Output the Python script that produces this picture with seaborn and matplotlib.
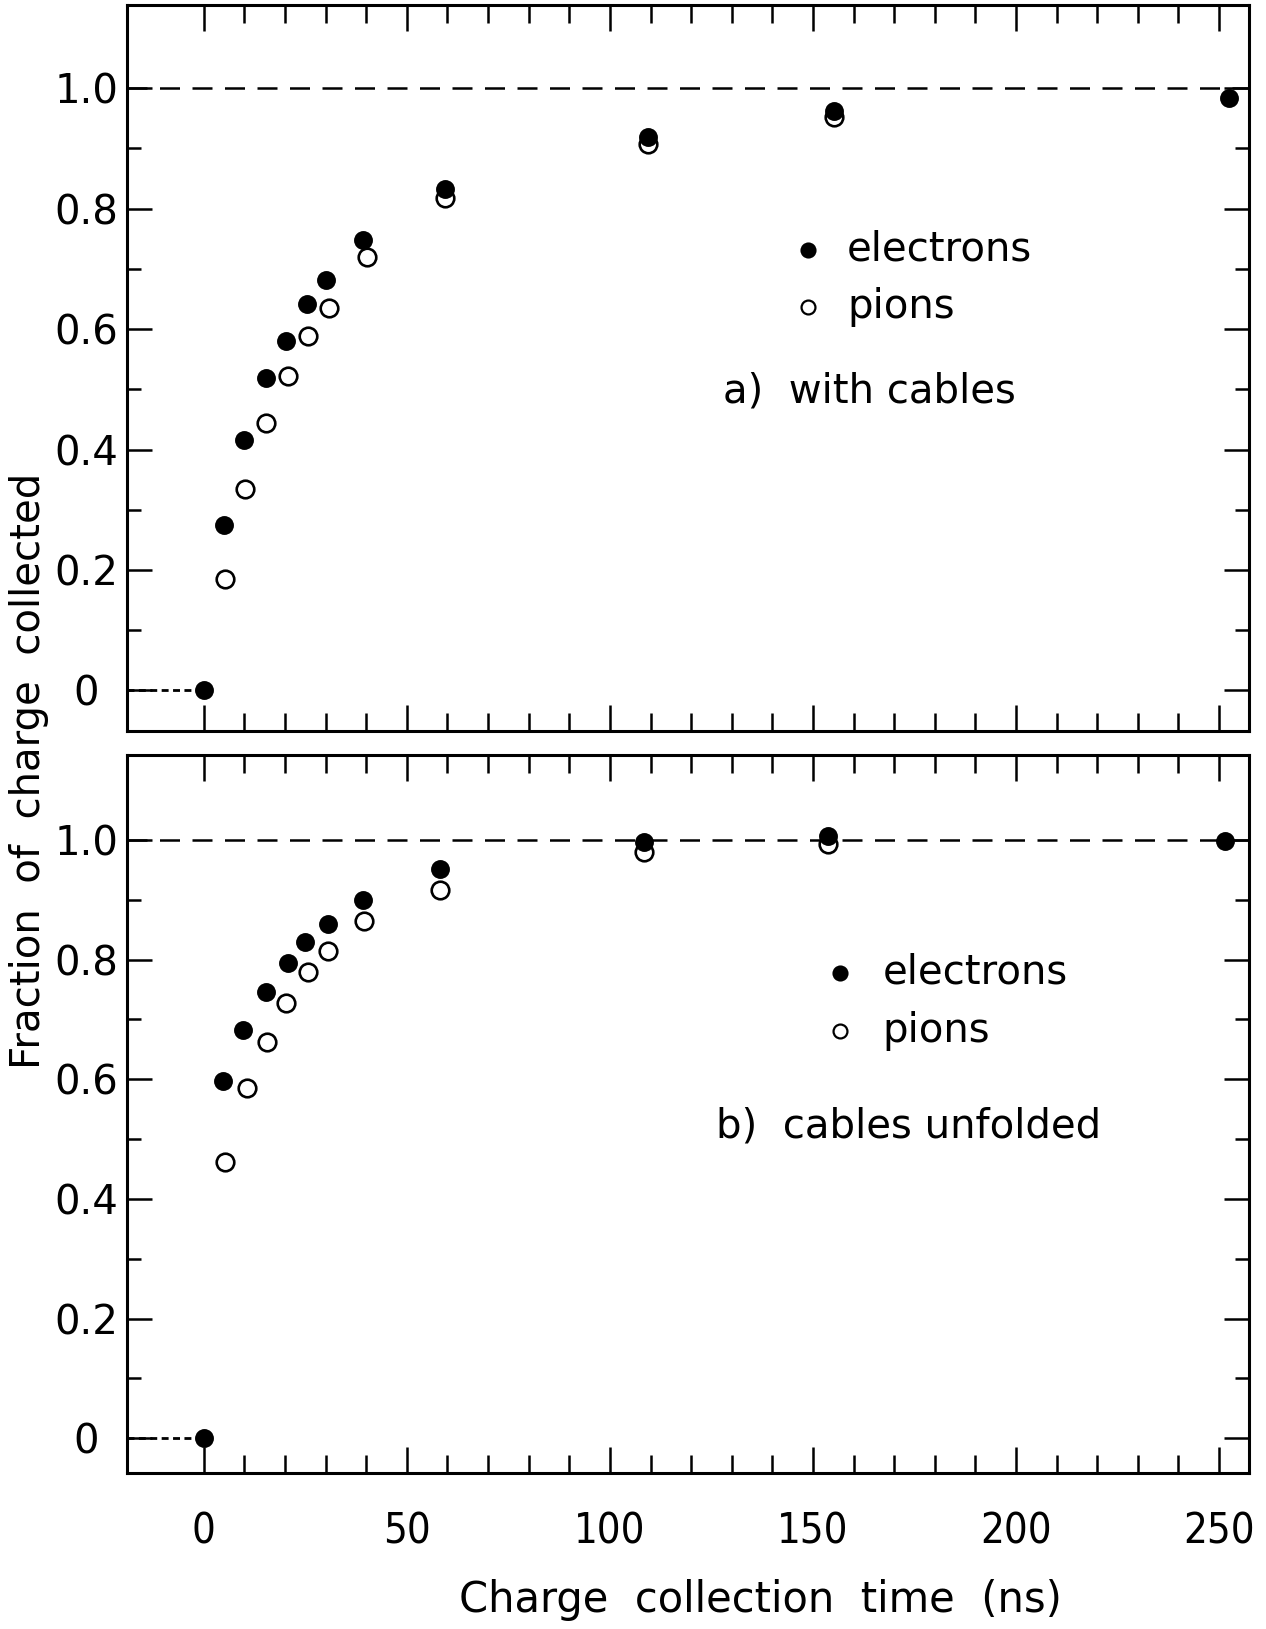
import os
import matplotlib
matplotlib.use("Agg")
import matplotlib.pyplot as plt
import seaborn as sns
import pandas as pd
from matplotlib import font_manager
from matplotlib.font_manager import FontProperties
from matplotlib.ticker import FixedLocator, FixedFormatter, NullFormatter

# ---- data: fraction of charge collected vs. charge collection time (ns) ----
# a) with cables
t_el_a = [0.0, 4.9, 9.8, 15.3, 20.2, 25.5, 30.1, 39.2, 59.4, 109.3, 155.1, 252.5]
f_el_a = [0.0, 0.275, 0.416, 0.519, 0.581, 0.642, 0.681, 0.748, 0.833, 0.919, 0.962, 0.984]
t_pi_a = [5.1, 10.2, 15.3, 20.8, 25.7, 30.8, 40.2, 59.4, 109.3, 155.1]
f_pi_a = [0.185, 0.335, 0.444, 0.522, 0.589, 0.635, 0.719, 0.817, 0.907, 0.952]

# b) cables unfolded
t_el_b = [0.0, 4.8, 9.6, 15.2, 20.8, 25.0, 30.6, 39.2, 58.1, 108.3, 153.6, 251.5]
f_el_b = [0.0, 0.597, 0.683, 0.746, 0.795, 0.830, 0.860, 0.900, 0.951, 0.996, 1.006, 0.998]
t_pi_b = [5.1, 10.6, 15.5, 20.3, 25.7, 30.5, 39.4, 58.1, 108.3, 153.6]
f_pi_b = [0.461, 0.585, 0.662, 0.728, 0.779, 0.815, 0.865, 0.916, 0.980, 0.994]

x_major = [0, 50, 100, 150, 200, 250]
x_minor = list(range(0, 251, 10))
y_major = [0.0, 0.2, 0.4, 0.6, 0.8, 1.0]
y_major_labels = ["0", "0.2", "0.4", "0.6", "0.8", "1.0"]
y_minor = [0.1, 0.3, 0.5, 0.7, 0.9]

panel_titles = ["a)  with cables", "b)  cables unfolded"]
legend_labels = ["electrons", "pions"]

# ---- style ----
sns.set_style("ticks")
plt.rcParams["font.family"] = ["DejaVu Sans"]
plt.rcParams["axes.edgecolor"] = "black"
plt.rcParams["xtick.color"] = "black"
plt.rcParams["ytick.color"] = "black"
plt.rcParams["text.color"] = "black"

# a narrow face for the time-axis numbers, if one is installed
narrow_files = ["LiberationSansNarrow-Regular.ttf", "DejaVuSansCondensed.ttf",
                "RobotoCondensed-Regular.ttf", "OpenSans_Condensed-Regular.ttf"]
available = {os.path.basename(f.fname): f.fname for f in font_manager.fontManager.ttflist}
narrow_fp = None
for name in narrow_files:
    if name in available:
        narrow_fp = FontProperties(fname=available[name], size=30)
        break
if narrow_fp is None:
    for base, path in available.items():
        low = base.lower()
        if ("condensed" in low or "narrow" in low) and "bold" not in low \
                and "italic" not in low and "oblique" not in low and "light" not in low:
            narrow_fp = FontProperties(fname=path, size=30)
            break
if narrow_fp is None:
    narrow_fp = FontProperties(family="DejaVu Sans", size=29)

XLIM = (-19, 257.5)

fig = plt.figure(figsize=(12.66, 16.29), dpi=100)
ax_a = fig.add_axes([0.1001, 0.5511, 0.8868, 0.4457])
ax_b = fig.add_axes([0.1001, 0.0958, 0.8868, 0.4407])


def draw_panel(ax, t_el, f_el, t_pi, f_pi, ylim, title, title_xy, key_x, key_y, text_x):
    # reference line at full collection and lead-in to the zero point
    ax.axhline(1.0, color="black", lw=1.8, dashes=(8, 5), zorder=1)
    ax.plot([XLIM[0], 0], [0, 0], color="black", lw=2.0, dashes=(2.5, 1.6), zorder=1)

    pions = pd.DataFrame({"t": t_pi, "f": f_pi})
    electrons = pd.DataFrame({"t": t_el, "f": f_el})
    sns.scatterplot(data=pions, x="t", y="f", ax=ax, marker="o", s=160,
                    color="black", facecolor="white", edgecolor="black",
                    linewidth=1.9, zorder=2)
    sns.scatterplot(data=electrons, x="t", y="f", ax=ax, marker="o", s=185,
                    color="black", edgecolor="black", linewidth=0, zorder=3)

    # key
    ax.scatter([key_x], [key_y[0]], s=135, color="black", linewidths=0, zorder=3)
    ax.scatter([key_x], [key_y[1]], s=100, facecolor="white", edgecolor="black",
               linewidths=1.6, zorder=3)
    ax.text(text_x, key_y[0], legend_labels[0], fontsize=29, va="center", ha="left")
    ax.text(text_x, key_y[1], legend_labels[1], fontsize=29, va="center", ha="left")
    ax.text(title_xy[0], title_xy[1], title, fontsize=29, va="center", ha="left")

    ax.set_xlim(*XLIM)
    ax.set_ylim(*ylim)
    ax.set_xlabel("")
    ax.set_ylabel("")

    ax.xaxis.set_major_locator(FixedLocator(x_major))
    ax.xaxis.set_minor_locator(FixedLocator(x_minor))
    ax.yaxis.set_major_locator(FixedLocator(y_major))
    ax.yaxis.set_minor_locator(FixedLocator(y_minor))
    ax.yaxis.set_major_formatter(FixedFormatter(y_major_labels))
    ax.yaxis.set_minor_formatter(NullFormatter())

    ax.tick_params(axis="x", which="major", direction="in", length=19, width=1.8,
                   top=True, bottom=True)
    ax.tick_params(axis="x", which="minor", direction="in", length=13, width=1.8,
                   top=True, bottom=True)
    ax.tick_params(axis="y", which="major", direction="in", length=18, width=1.8,
                   left=True, right=True, pad=29, labelsize=29)
    ax.tick_params(axis="y", which="minor", direction="in", length=10, width=1.8,
                   left=True, right=True)
    for lab in ax.yaxis.get_majorticklabels():
        lab.set_horizontalalignment("center")
    for sp in ax.spines.values():
        sp.set_visible(True)
        sp.set_linewidth(2.2)
        sp.set_color("black")


draw_panel(ax_a, t_el_a, f_el_a, t_pi_a, f_pi_a, (-0.068, 1.138),
           panel_titles[0], (127.9, 0.497), 148.7, (0.732, 0.636), 158.4)
draw_panel(ax_b, t_el_b, f_el_b, t_pi_b, f_pi_b, (-0.058, 1.142),
           panel_titles[1], (126.1, 0.521), 156.6, (0.778, 0.681), 167.2)

ax_a.xaxis.set_major_formatter(NullFormatter())
ax_b.xaxis.set_major_formatter(FixedFormatter([str(v) for v in x_major]))
ax_b.tick_params(axis="x", which="major", pad=27)
for lab in ax_b.xaxis.get_majorticklabels():
    lab.set_fontproperties(narrow_fp)

fig.text(0.601, 0.0178, "Charge  collection  time  (ns)", fontsize=30,
         ha="center", va="center")
fig.text(0.0229, 0.5267, "Fraction  of  charge  collected", fontsize=29,
         rotation=90, ha="center", va="center")

fig.savefig("out.png", dpi=100)
